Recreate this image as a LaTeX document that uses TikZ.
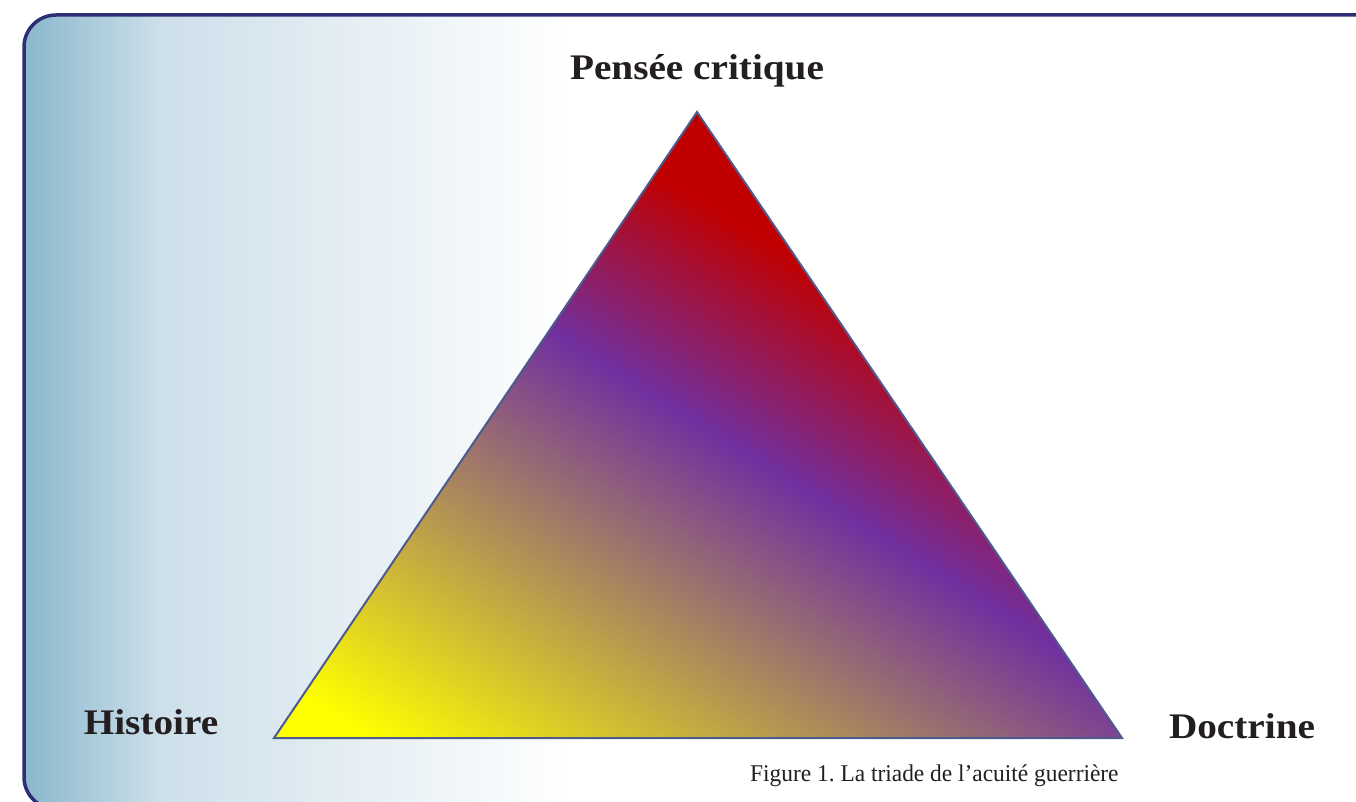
\documentclass[tikz,border=0pt]{standalone}
\usepackage{fontspec}
\setmainfont{Liberation Serif}
\newfontfamily\labfont[FakeStretch=1.09]{Liberation Serif}
\newfontfamily\captfont[FakeStretch=0.975]{Liberation Serif}
\definecolor{framec}{HTML}{2B2E74}
\definecolor{bgA}{HTML}{88B6CB}
\definecolor{bgB}{HTML}{CDDFEA}
\definecolor{labtext}{HTML}{231F20}
\definecolor{yellowc}{HTML}{FFFF00}
\definecolor{purplec}{HTML}{7030A0}
\definecolor{redc}{HTML}{C00000}
\definecolor{tribord}{HTML}{4D5B8C}
\frenchspacing
\begin{document}
\begin{tikzpicture}[x=1pt,y=1pt,
  lab/.style={font=\labfont\bfseries\fontsize{36}{40}\selectfont, text=labtext, anchor=base, inner sep=0pt},
  capt/.style={font=\captfont\fontsize{24}{28}\selectfont, text=labtext, anchor=base west, inner sep=0pt},
  framebox/.style={draw=framec, line width=3.5pt, rounded corners=32pt},
  triborder/.style={draw=tribord, line width=2pt, line join=miter}]
\useasboundingbox (0,0) rectangle (1356,801);
\clip (0,0) rectangle (1356,801);
% background panel
\coordinate (fA) at (24,786);
\coordinate (fB) at (1420,-8);
\begin{scope}
  \clip[rounded corners=32pt] (fA) rectangle (fB);
  \shade[left color=bgA, right color=bgB] (20,-10) rectangle (160,790);
  \shade[left color=bgB, right color=white] (159.5,-10) rectangle (570,790);
  \fill[white] (569.5,-10) rectangle (1420,790);
\end{scope}
\draw[framebox] (fA) rectangle (fB);
% triangle
\coordinate (apex) at (697,689);
\coordinate (bl) at (274,63);
\coordinate (br) at (1122,63);
\begin{scope}
  \clip (apex) -- (bl) -- (br) -- cycle;
  \begin{scope}[transform canvas={rotate=-32}]
    \fill[yellowc] (100,100) rectangle (1000,251);
    \shade[bottom color=yellowc, top color=purplec] (100,250) rectangle (1000,690.5);
    \shade[bottom color=purplec, top color=redc] (100,690) rectangle (1000,880.5);
    \fill[redc] (100,880) rectangle (1000,1050);
  \end{scope}
\end{scope}
\draw[triborder] (apex) -- (bl) -- (br) -- cycle;
% labels
\node[lab] (pc) at (697,721) {Pensée critique};
\node[lab] (hist) at (151,67) {Histoire};
\node[lab] (doc) at (1242,63) {Doctrine};
\node[capt] (fig) at (750,20) {Figure 1. La triade de l’acuité guerrière};
\end{tikzpicture}
\end{document}
